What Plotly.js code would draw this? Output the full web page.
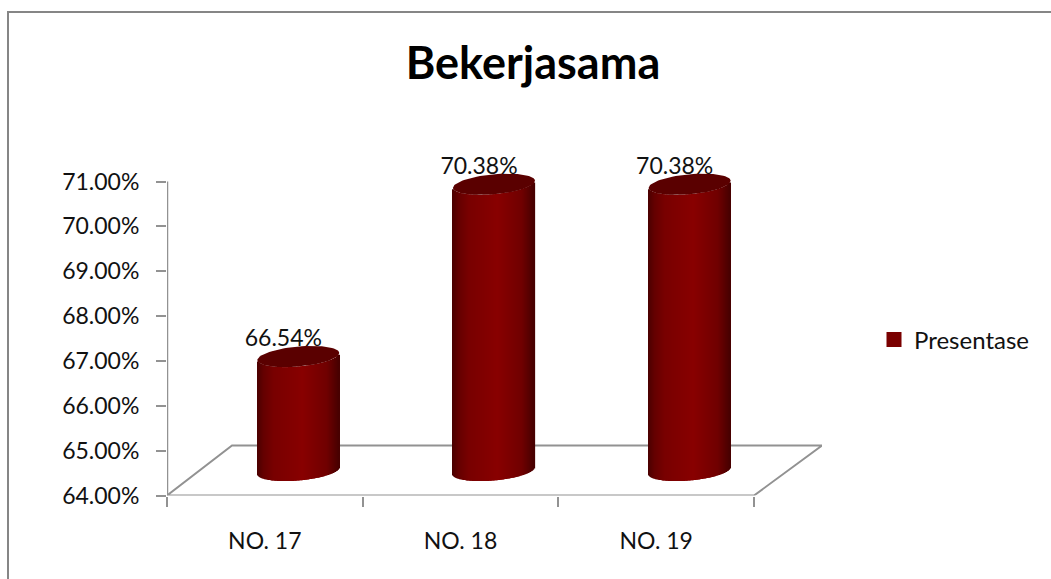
<!DOCTYPE html>
<html>
<head>
<meta charset="utf-8">
<script src="https://cdn.plot.ly/plotly-3.0.1.min.js"></script>
<style>html,body{margin:0;padding:0;background:#fff}#c{width:1051px;height:579px}</style>
</head>
<body>
<div id="c"></div>
<script>
const title = 'Bekerjasama';
const seriesName = 'Presentase';
const categories = ['NO. 17', 'NO. 18', 'NO. 19'];
const values = [66.54, 70.38, 70.38];
const labels = ['66.54%', '70.38%', '70.38%'];
const yTicks = [64, 65, 66, 67, 68, 69, 70, 71];

const W = 1051, H = 579;
const L = 167, R = 822, T = 181.5, B = 495.5;  // axis box in page pixels
const headroom = 40;                           // room above the top tick for labels and caps
const yMin = 64, yMax = 71;
const pxX = 195.67, pxY = (B - T) / (yMax - yMin);
const xMax = (R - L) / pxX;
const yTop = yMax + headroom / pxY;
const depthX = 65 / pxX, depthY = 50 / pxY;    // floor depth
const barShift = 1 / pxX;
const halfW = 41 / pxX, capB = 10 / pxY, tilt = 3.5 / pxY;
const labelDX = -15 / pxX, labelDY = 41 / pxY;

const stops = [[0, [74, 0, 0]], [0.08, [100, 0, 0]], [0.2, [120, 0, 0]], [0.55, [136, 0, 0]], [0.85, [112, 0, 0]], [1, [70, 0, 0]]];
function shade(f) {
  for (let i = 1; i < stops.length; i++) {
    if (f <= stops[i][0]) {
      const a = stops[i - 1], b = stops[i], k = (f - a[0]) / (b[0] - a[0]);
      return 'rgb(' + a[1].map((v, j) => Math.round(v + (b[1][j] - v) * k)).join(',') + ')';
    }
  }
  return 'rgb(70,0,0)';
}

const sx = [], sy = [], sb = [], sc = [];
const traces = [];
const N = 82;
categories.forEach((cat, i) => {
  const cx = i + 0.5 + depthX / 2 + barShift;
  const topC = values[i] + depthY / 2;
  const botC = yMin + depthY / 2;
  for (let k = 0; k < N; k++) {
    const u = (k + 0.5) / N * 2 - 1;
    const dip = capB * Math.sqrt(1 - u * u);
    const lean = tilt * u;
    const bottom = botC + lean - dip;
    const top = topC + lean - dip;
    sx.push(cx + u * halfW);
    sb.push(bottom);
    sy.push(top - bottom);
    sc.push(shade((u + 1) / 2));
  }
});
traces.push({
  type: 'bar', x: sx, y: sy, base: sb, width: 1.25 / pxX,
  marker: {color: sc, line: {width: 0}}, cliponaxis: false,
  showlegend: false, hoverinfo: 'skip'
});
categories.forEach((cat, i) => {
  const cx = i + 0.5 + depthX / 2 + barShift, topC = values[i] + depthY / 2;
  const px = [], py = [];
  for (let a = 0; a <= 72; a++) {
    const t = a / 72 * 2 * Math.PI, u = Math.cos(t);
    px.push(cx + u * halfW);
    py.push(topC + tilt * u + capB * Math.sin(t));
  }
  traces.push({
    type: 'scatter', mode: 'lines', x: px, y: py, fill: 'toself', fillcolor: '#5a0000',
    line: {width: 0, color: '#5a0000'}, cliponaxis: false, showlegend: false, hoverinfo: 'skip'
  });
});
traces.push({
  type: 'scatter', mode: 'text',
  x: categories.map((c, i) => i + 0.5 + depthX / 2 + barShift + labelDX),
  y: values.map(v => v + labelDY),
  text: labels, textposition: 'middle center',
  textfont: {family: 'Lato, sans-serif', size: 23, color: '#111'},
  cliponaxis: false, showlegend: false, hoverinfo: 'skip'
});
traces.push({
  type: 'scatter', mode: 'markers', name: seriesName, x: [null], y: [null],
  marker: {color: '#7a0000', symbol: 'square', size: 15}, showlegend: true, hoverinfo: 'skip'
});

const gray = '#929292';
const n = categories.length;
const floorPath = 'M0,' + yMin + 'L' + depthX + ',' + (yMin + depthY) + 'L' + xMax + ',' + (yMin + depthY) + 'L' + n + ',' + yMin + 'Z';

const layout = {
  width: W, height: H,
  margin: {l: 0, r: 0, t: 0, b: 0},
  paper_bgcolor: '#fff', plot_bgcolor: 'rgba(0,0,0,0)',
  barmode: 'overlay',
  showlegend: true,
  font: {family: 'Lato, sans-serif', color: '#111'},
  title: {text: '<b>' + title + '</b>', x: 533 / W, xanchor: 'center', y: 1 - 63 / H, yanchor: 'middle',
          font: {family: 'Lato, sans-serif', size: 45, color: '#000'}},
  legend: {x: 874 / W, xanchor: 'left', y: 1 - 340 / H, yanchor: 'middle',
           font: {family: 'Lato, sans-serif', size: 24, color: '#111'},
           itemwidth: 30, tracegroupgap: 0, bgcolor: 'rgba(0,0,0,0)'},
  xaxis: {
    domain: [L / W, R / W], range: [0, xMax], fixedrange: true, showgrid: false, zeroline: false, showline: false,
    tickmode: 'array', tickvals: categories.map((c, i) => i + 0.5), ticktext: categories, ticks: '',
    ticklabelstandoff: 29, tickfont: {family: 'Lato, sans-serif', size: 23, color: '#111'},
    minor: {tickmode: 'array', tickvals: [0, 1, 2, 3], ticks: 'outside', ticklen: 10, tickwidth: 2, tickcolor: gray, showgrid: false}
  },
  yaxis: {
    domain: [1 - B / H, 1 - (T - headroom) / H], range: [yMin, yTop], fixedrange: true, showgrid: false, zeroline: false,
    showline: false,
    tickmode: 'array', tickvals: yTicks, ticktext: yTicks.map(v => v.toFixed(2) + '%'),
    ticks: 'outside', ticklen: 10, tickwidth: 2, tickcolor: gray, ticklabelstandoff: 12,
    tickfont: {family: 'Lato, sans-serif', size: 23, color: '#111'}
  },
  shapes: [
    {type: 'path', xref: 'x', yref: 'y', path: floorPath, layer: 'below', line: {color: gray, width: 2}, fillcolor: 'rgba(0,0,0,0)'},
    {type: 'line', xref: 'x', yref: 'y', x0: 0, x1: 0, y0: yMin, y1: yMax, layer: 'below', line: {color: gray, width: 2.5}},
    {type: 'line', xref: 'paper', yref: 'paper', x0: 8 / W, x1: 1, y0: 1 - 12 / H, y1: 1 - 12 / H, line: {color: '#868686', width: 2}},
    {type: 'line', xref: 'paper', yref: 'paper', x0: 8 / W, x1: 8 / W, y0: 1 - 11 / H, y1: 0, line: {color: '#868686', width: 2}}
  ]
};
Plotly.newPlot('c', traces, layout, {displayModeBar: false});
</script>
</body>
</html>
